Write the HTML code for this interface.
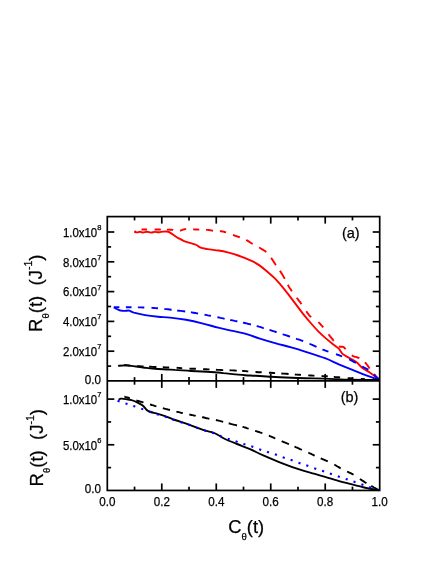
<!DOCTYPE html>
<html><head><meta charset="utf-8"><style>
html,body{margin:0;padding:0;background:#fff;}
svg{display:block;}
text{font-family:"Liberation Sans",sans-serif;white-space:pre;}
</style></head><body>
<svg width="436" height="564" viewBox="0 0 436 564">
<rect width="436" height="564" fill="#fff"/>
<g fill="none" stroke-width="1.9" stroke-linejoin="round">
<path d="M134.4,231.9 C134.8,232.0 136.1,232.4 137.0,232.4 C137.9,232.4 139.0,231.7 140.0,231.7 C141.0,231.7 141.8,232.5 143.0,232.5 C144.2,232.5 145.7,231.8 147.0,231.8 C148.3,231.8 149.7,232.6 151.0,232.6 C152.3,232.6 153.7,231.9 155.0,231.9 C156.3,231.9 157.7,232.4 159.0,232.3 C160.3,232.2 161.8,231.7 163.0,231.6 C164.2,231.5 165.5,231.4 166.5,231.5 C167.5,231.6 168.1,231.6 169.2,232.2 C170.3,232.8 171.8,233.8 173.3,234.8 C174.8,235.8 177.3,237.5 178.4,238.2 C179.5,238.9 179.1,238.3 180.0,238.8 C180.9,239.3 182.3,240.4 184.1,241.1 C185.9,241.8 188.9,242.5 191.0,243.2 C193.1,243.8 194.9,244.2 196.5,245.0 C198.1,245.8 198.8,247.0 200.6,247.7 C202.4,248.4 204.5,248.6 207.5,249.1 C210.5,249.6 215.3,250.0 218.5,250.5 C221.7,251.0 224.1,251.4 226.8,252.1 C229.6,252.8 232.0,253.4 235.0,254.4 C238.0,255.4 241.7,256.6 244.6,257.8 C247.5,259.0 250.3,260.2 252.7,261.4 C255.1,262.6 256.7,263.4 259.1,265.1 C261.5,266.8 264.4,269.2 267.1,271.5 C269.8,273.8 272.2,275.7 275.1,278.7 C278.0,281.7 281.7,286.0 284.6,289.6 C287.5,293.2 289.8,296.2 292.7,300.1 C295.6,304.0 299.4,309.2 302.3,312.9 C305.2,316.6 307.6,319.4 310.3,322.5 C313.0,325.6 315.9,328.9 318.3,331.4 C320.8,333.9 322.5,335.4 325.0,337.6 C327.5,339.8 331.0,342.6 333.3,344.4 C335.6,346.2 337.2,347.0 338.8,348.6 C340.4,350.2 341.1,352.5 342.9,354.1 C344.7,355.7 347.5,356.8 349.8,358.2 C352.1,359.6 354.6,360.7 356.6,362.3 C358.7,363.9 359.8,366.0 362.1,367.8 C364.4,369.6 367.6,371.1 370.4,373.0 C373.2,374.9 377.6,378.4 379.0,379.5" stroke="#ff0000"/>
<path d="M134.4,231.9 L134.7,231.8 L135.0,231.7 L135.5,231.5 L136.0,231.3 L136.0,231.3 M141.5,229.6 L142.3,229.5 L143.2,229.5 L144.3,229.5 L145.3,229.5 L146.5,229.5 L147.0,229.5 M154.6,229.5 L154.9,229.5 L156.2,229.5 L157.5,229.5 L158.7,229.5 L160.0,229.5 L160.8,229.5 M167.0,229.6 L167.7,229.6 L168.9,229.6 L170.0,229.7 L171.0,229.8 L172.1,229.9 L173.0,229.9 L173.1,230.0 M180.0,230.6 L180.5,230.5 L181.1,230.3 L181.8,230.1 L182.4,229.8 L183.1,229.6 L183.9,229.4 L184.7,229.2 L185.5,229.1 L186.2,229.1 M193.1,229.4 L193.8,229.4 L195.3,229.5 L197.0,229.5 L198.9,229.6 L199.3,229.6 M206.1,229.8 L206.1,229.8 L207.5,229.9 L208.6,230.0 L209.4,230.1 L210.0,230.2 L210.6,230.3 L211.1,230.4 L211.6,230.5 L212.2,230.6 L213.0,230.7 M219.9,231.2 L220.4,231.2 L221.3,231.3 L222.0,231.4 L222.5,231.5 L223.0,231.5 L223.4,231.6 L223.7,231.7 L224.2,231.8 L224.7,232.0 L225.4,232.2 L226.1,232.4 M233.0,235.0 L233.6,235.2 L234.5,235.5 L235.3,235.8 L236.1,236.0 L236.8,236.3 L237.5,236.5 L238.3,236.8 L239.0,237.0 L239.8,237.3 M246.2,240.0 L247.0,240.4 L247.8,240.9 L248.6,241.4 L249.5,241.9 L250.3,242.5 L251.1,243.0 L251.9,243.5 L252.7,244.0 M259.1,247.5 L260.0,248.0 L260.9,248.5 L261.8,249.1 L262.8,249.6 L263.7,250.2 L264.6,250.8 L265.5,251.4 L266.3,252.0 M271.1,257.9 L271.7,258.7 L272.3,259.6 L272.9,260.6 L273.6,261.5 L274.2,262.5 L274.8,263.4 L275.3,264.3 L275.9,265.1 M279.9,270.7 L280.5,271.6 L281.1,272.6 L281.8,273.6 L282.4,274.7 L283.1,275.8 L283.7,276.9 L284.3,277.9 L284.8,278.8 M287.8,284.8 L288.3,285.6 L288.7,286.4 L289.2,287.2 L289.7,288.0 L290.3,288.8 L290.8,289.6 L291.3,290.4 L291.9,291.2 M296.7,297.7 L297.3,298.5 L297.9,299.3 L298.5,300.1 L299.1,300.9 L299.7,301.6 L300.3,302.4 L300.9,303.3 L301.5,304.1 M306.3,311.3 L306.9,312.1 L307.4,312.9 L308.0,313.7 L308.6,314.4 L309.1,315.1 L309.7,315.8 L310.4,316.5 L311.1,317.2 M318.3,322.1 L319.0,322.7 L319.7,323.4 L320.3,324.0 L320.8,324.6 L321.4,325.3 L322.0,325.9 L322.6,326.6 L323.2,327.4 M328.6,334.3 L328.8,334.6 L329.5,335.4 L330.1,336.3 L330.8,337.1 L331.4,337.9 L332.0,338.7 L332.7,339.5 L333.3,340.3 L333.8,340.9 M338.8,346.3 L339.4,346.6 L339.9,346.7 L340.5,346.8 L341.0,346.7 L341.5,346.7 L342.0,346.7 L342.5,346.7 L342.9,346.8 L343.3,347.0 L343.6,347.1 L343.9,347.3 L344.1,347.5 L344.4,347.8 L344.7,348.1 L345.1,348.5 L345.6,349.0 M351.8,355.4 L352.7,355.9 L353.7,356.3 L354.6,356.7 L355.6,356.9 L356.6,357.2 L357.6,357.5 L358.5,357.8 L359.4,358.2 M364.9,362.3 L365.5,363.0 L366.2,363.7 L366.8,364.5 L367.4,365.3 L368.0,366.1 L368.6,366.9 L369.1,367.7 L369.7,368.5 M374.0,374.0 L374.6,374.7 L375.3,375.5 L376.0,376.4 L376.8,377.2 L377.5,378.0 L378.1,378.7 L378.6,379.3 L379.0,379.7 " stroke="#ff0000"/>
<path d="M113.8,307.4 C114.2,307.6 115.3,308.3 116.0,308.6 C116.7,308.9 117.1,309.1 117.8,309.4 C118.5,309.7 119.3,310.2 120.0,310.4 C120.7,310.6 121.1,310.6 121.9,310.7 C122.7,310.8 123.8,310.9 125.0,310.9 C126.2,310.9 127.6,310.3 129.1,310.6 C130.6,310.9 131.2,311.9 133.9,312.7 C136.6,313.4 141.1,314.4 145.1,315.1 C149.1,315.8 153.8,316.3 158.0,316.7 C162.2,317.1 165.3,317.1 170.0,317.6 C174.7,318.1 180.7,318.9 186.0,319.8 C191.3,320.8 196.7,322.0 202.1,323.3 C207.5,324.6 213.4,326.4 218.2,327.6 C223.0,328.8 226.9,329.7 231.0,330.6 C235.1,331.5 238.3,331.9 243.0,333.2 C247.7,334.5 253.8,336.6 259.1,338.3 C264.5,340.0 269.8,341.6 275.1,343.1 C280.5,344.6 286.2,346.0 291.2,347.4 C296.2,348.8 299.4,349.8 305.0,351.6 C310.6,353.4 319.4,356.1 325.0,358.2 C330.6,360.3 334.2,362.4 338.8,364.4 C343.4,366.3 347.9,368.1 352.5,369.9 C357.1,371.7 361.9,373.8 366.3,375.4 C370.7,377.0 376.9,379.1 379.0,379.8" stroke="#0000ff"/>
<path d="M113.8,307.1 L114.6,307.1 L115.7,307.1 L116.9,307.1 L118.3,307.1 L119.4,307.1 M125.9,307.2 L127.0,307.2 L129.1,307.3 L131.5,307.3 L131.5,307.3 M137.9,307.4 L138.6,307.4 L140.9,307.4 L142.9,307.5 L144.3,307.5 M151.5,307.8 L152.5,307.9 L154.0,308.0 L155.5,308.1 L157.1,308.2 L158.0,308.3 M164.4,308.9 L164.9,309.0 L166.4,309.1 L168.0,309.3 L169.6,309.5 L171.2,309.7 L171.6,309.7 M177.2,310.4 L177.6,310.5 L179.2,310.7 L180.8,310.9 L182.4,311.1 L183.9,311.3 L185.2,311.5 M190.9,312.3 L191.6,312.4 L193.4,312.7 L195.3,313.0 L197.2,313.4 L198.1,313.5 M204.5,314.7 L205.7,314.9 L208.0,315.4 L210.3,315.8 L210.9,315.9 M217.4,317.2 L217.9,317.3 L220.5,317.9 L223.1,318.4 L224.6,318.8 M230.2,319.9 L230.5,320.0 L232.6,320.4 L234.7,320.9 L236.6,321.2 L237.4,321.4 M243.0,322.6 L243.8,322.8 L245.7,323.2 L247.6,323.7 L249.5,324.1 L251.0,324.5 M256.7,326.0 L257.0,326.1 L258.9,326.7 L260.8,327.2 L262.7,327.8 L263.9,328.1 M269.5,329.9 L270.4,330.2 L272.3,330.8 L274.2,331.4 L276.0,332.0 L276.7,332.2 M282.7,334.2 L283.0,334.3 L284.7,334.8 L286.4,335.4 L288.2,336.0 L290.0,336.6 M296.0,338.6 L297.3,339.1 L299.2,339.7 L301.1,340.4 L303.2,341.2 L303.2,341.2 M309.5,343.7 L310.1,344.0 L312.7,345.1 L315.4,346.3 L316.5,346.8 M322.5,349.4 L322.9,349.6 L325.0,350.4 L326.8,351.1 L328.4,351.7 M336.0,354.1 L337.0,354.5 L337.9,354.8 L338.6,355.0 L339.4,355.3 L340.0,355.6 L340.7,355.8 L341.4,356.1 L342.2,356.4 M349.1,359.3 L350.0,359.7 L350.8,360.2 L351.7,360.6 L352.6,361.1 L353.5,361.6 L354.3,362.1 L355.2,362.5 L356.0,363.0 M362.1,366.5 L362.9,366.9 L363.6,367.3 L364.4,367.7 L365.2,368.1 L366.0,368.5 L366.7,368.9 L367.5,369.4 L368.3,369.9 M373.8,374.7 L373.8,374.8 L374.5,375.4 L375.2,376.0 L375.9,376.7 L376.5,377.3 L377.1,377.9 L377.7,378.5 L378.2,379.0 L378.7,379.4 L379.0,379.7 " stroke="#0000ff"/>
<path d="M118.4,365.9 C119.6,365.8 122.8,365.3 125.7,365.4 C128.6,365.5 132.6,366.1 136.0,366.5 C139.4,366.9 143.1,367.5 146.3,367.9 C149.5,368.3 151.6,368.5 155.0,368.8 C158.4,369.1 163.7,369.3 167.0,369.5 C170.3,369.7 171.0,369.6 175.0,369.9 C179.0,370.1 185.7,370.7 191.0,371.0 C196.3,371.3 203.0,371.6 207.0,371.8 C211.0,372.0 212.3,372.0 215.0,372.2 C217.7,372.4 218.0,372.6 223.0,373.1 C228.0,373.6 239.5,374.8 245.0,375.2 C250.5,375.6 250.0,375.4 255.8,375.8 C261.6,376.2 271.8,376.9 280.0,377.3 C288.2,377.7 297.5,378.0 305.0,378.2 C312.5,378.4 317.2,378.3 325.0,378.6 C332.8,378.9 343.0,379.6 352.0,379.8 C361.0,380.0 374.5,380.0 379.0,380.0" stroke="#000"/>
<path d="M118.4,365.9 L118.9,365.8 L119.0,365.8 M123.9,365.3 L124.6,365.3 L125.7,365.3 L126.8,365.3 L127.9,365.4 L129.1,365.5 L130.3,365.6 L130.3,365.6 M137.1,366.2 L137.8,366.2 L139.8,366.3 L141.9,366.4 L143.5,366.5 M149.1,366.7 L150.6,366.8 L152.5,366.9 L154.3,367.0 L155.9,367.0 L156.4,367.1 M162.8,367.3 L163.5,367.3 L165.0,367.4 L166.5,367.5 L167.9,367.5 L169.2,367.5 M176.6,367.8 L178.1,367.9 L179.7,368.0 L181.3,368.1 L182.2,368.1 M189.4,368.6 L191.1,368.7 L192.8,368.7 L194.5,368.8 L195.9,368.8 M203.1,369.1 L204.7,369.2 L206.4,369.3 L208.0,369.4 L209.5,369.4 M215.9,369.8 L216.0,369.8 L217.7,369.9 L219.4,369.9 L221.1,370.0 L222.8,370.1 L223.2,370.1 M229.6,370.3 L231.2,370.4 L232.8,370.4 L234.4,370.5 L236.0,370.6 L236.8,370.6 M242.1,370.9 L242.4,370.9 L244.0,371.0 L245.5,371.1 L246.9,371.3 L248.3,371.4 M255.5,372.0 L255.8,372.0 L258.3,372.2 L261.1,372.3 L261.7,372.4 M268.9,372.8 L270.4,372.8 L273.6,373.0 L275.1,373.1 M281.3,373.5 L283.1,373.6 L286.4,373.8 L288.6,374.0 M294.8,374.5 L296.2,374.6 L299.3,374.8 L301.0,374.9 M308.2,375.4 L310.8,375.5 L313.4,375.6 L314.4,375.7 M321.6,376.0 L322.9,376.1 L325.0,376.2 L326.9,376.3 L327.8,376.4 M333.8,376.9 L334.1,376.9 L335.5,377.1 L337.0,377.2 L338.6,377.3 L340.1,377.5 M347.7,378.1 L348.4,378.2 L350.0,378.3 L351.6,378.4 L353.2,378.5 L353.2,378.5 M360.8,378.9 L361.2,378.9 L363.0,379.0 L364.9,379.1 M373.0,379.6 L374.0,379.7 L376.1,379.8 L377.7,379.9 L378.0,379.9 " stroke="#000"/>
<path d="M118.6,399.8 C119.0,399.6 119.9,398.7 121.1,398.6 C122.3,398.5 124.2,398.8 125.9,399.1 C127.6,399.4 129.6,399.7 131.5,400.2 C133.4,400.7 135.2,401.4 137.1,402.3 C139.0,403.2 141.1,404.2 142.7,405.5 C144.3,406.8 145.4,408.8 146.7,409.9 C148.0,411.0 148.8,411.3 150.7,412.0 C152.6,412.7 155.2,413.0 158.0,413.9 C160.8,414.8 164.8,416.1 167.6,417.1 C170.4,418.1 171.6,418.8 175.0,420.0 C178.4,421.2 183.6,422.8 188.3,424.4 C193.0,426.0 198.9,428.5 203.0,429.9 C207.1,431.3 210.4,431.7 213.1,432.6 C215.8,433.5 217.0,434.4 219.0,435.5 C221.0,436.6 222.0,437.6 225.0,439.0 C228.0,440.4 232.8,442.3 237.0,444.0 C241.2,445.7 245.6,447.2 250.0,449.1 C254.4,451.0 258.0,453.1 263.3,455.4 C268.6,457.7 275.6,460.7 281.7,463.1 C287.8,465.5 294.4,467.9 300.0,469.7 C305.6,471.5 309.8,472.4 315.0,473.9 C320.2,475.4 325.6,477.1 331.0,478.7 C336.4,480.2 341.7,481.8 347.1,483.2 C352.5,484.6 357.9,486.0 363.2,487.2 C368.5,488.4 376.5,489.9 379.2,490.4" stroke="#000"/>
<path d="M124.3,396.6 L124.7,396.7 L125.3,396.9 L126.0,397.1 L126.7,397.3 L127.5,397.5 L128.3,397.7 L129.1,398.0 L129.9,398.2 M136.3,400.5 L137.2,400.8 L138.1,401.0 L139.0,401.2 L139.9,401.5 L140.8,401.7 L141.7,401.9 L142.6,402.2 L143.5,402.4 M150.0,404.5 L150.8,404.7 L151.6,405.0 L152.4,405.2 L153.2,405.4 L154.0,405.6 L154.8,405.9 L155.6,406.1 L156.4,406.3 M162.8,408.2 L163.7,408.4 L164.6,408.7 L165.5,408.9 L166.4,409.1 L167.3,409.3 L168.2,409.6 L169.1,409.8 L170.0,410.0 M176.4,411.6 L177.2,411.8 L178.0,412.0 L178.8,412.2 L179.6,412.4 L180.4,412.6 L181.2,412.8 L182.0,413.0 L182.8,413.2 M189.3,414.5 L190.1,414.7 L190.9,414.8 L191.7,415.0 L192.5,415.1 L193.3,415.3 L194.1,415.5 L194.9,415.6 L195.7,415.8 M202.1,417.1 L203.0,417.3 L203.9,417.5 L204.8,417.7 L205.7,418.0 L206.7,418.2 L207.6,418.4 L208.5,418.6 L209.4,418.8 M215.9,420.0 L216.8,420.2 L217.7,420.4 L218.7,420.6 L219.6,420.9 L220.6,421.1 L221.5,421.4 L222.4,421.6 L223.2,421.8 M228.7,423.3 L229.6,423.5 L230.6,423.8 L231.6,424.1 L232.7,424.4 L233.8,424.7 L234.9,424.9 L236.0,425.2 L237.0,425.5 M242.5,426.8 L242.9,426.9 L243.9,427.2 L245.0,427.5 L246.2,427.9 L247.4,428.3 L248.7,428.7 M255.1,430.8 L256.2,431.1 L257.1,431.5 L258.1,431.8 L259.0,432.0 L259.8,432.3 L260.7,432.6 L261.5,432.9 L262.4,433.2 M268.9,435.7 L269.7,436.0 L270.5,436.4 L271.3,436.7 L272.1,437.0 L272.9,437.4 L273.7,437.7 L274.5,438.1 L275.3,438.4 M281.7,441.2 L282.6,441.6 L283.5,442.0 L284.5,442.3 L285.4,442.7 L286.4,443.1 L287.3,443.5 L288.2,443.9 L289.0,444.2 M294.5,446.5 L295.3,446.9 L296.2,447.3 L297.2,447.7 L298.1,448.2 L299.1,448.6 L300.1,449.1 L301.0,449.5 L301.9,449.9 M308.3,452.6 L309.1,453.0 L309.9,453.4 L310.7,453.7 L311.5,454.1 L312.3,454.5 L313.1,454.9 L313.9,455.3 L314.7,455.7 M320.7,458.3 L321.4,458.6 L322.2,459.0 L323.0,459.3 L323.8,459.6 L324.6,460.0 L325.4,460.3 L326.2,460.7 L327.0,461.0 L327.8,461.4 M334.3,464.6 L335.1,465.0 L335.9,465.5 L336.7,466.0 L337.5,466.5 L338.3,466.9 L339.1,467.4 L339.9,467.9 L340.7,468.3 M347.1,471.5 L347.9,471.9 L348.7,472.3 L349.5,472.7 L350.3,473.0 L351.1,473.4 L351.9,473.8 L352.7,474.2 L353.5,474.7 M359.9,479.0 L360.7,479.5 L361.6,480.1 L362.4,480.6 L363.2,481.2 L364.1,481.7 L364.9,482.3 L365.7,482.7 L366.4,483.2 M371.2,485.9 L372.0,486.4 L373.0,486.9 L374.0,487.5 L375.1,488.1 L376.1,488.7 L377.0,489.2 L377.8,489.7 L378.4,490.0 " stroke="#000"/>
<path d="M117.6,400.8 L119.6,401.5 M125.5,403.5 L127.5,404.1 M133.3,405.9 L135.3,406.5 M141.2,408.6 L143.2,409.4 M149.1,411.5 L151.1,412.2 M156.9,414.2 L158.9,414.8 M164.8,416.6 L166.8,417.3 M172.6,419.4 L174.6,420.1 M180.5,422.0 L182.5,422.7 M188.4,424.6 L190.4,425.3 M196.2,427.5 L198.2,428.2 M204.1,430.3 L206.1,430.9 M212.0,432.5 L214.0,433.2 M219.8,435.8 L221.8,436.6 M227.7,438.7 L229.7,439.3 M235.6,441.3 L237.6,442.0 M243.4,443.9 L245.4,444.5 M251.3,446.3 L253.3,446.9 M259.2,449.2 L261.2,449.9 M267.0,451.8 L269.0,452.5 M274.9,454.3 L276.9,455.0 M282.7,457.2 L284.7,457.9 M290.6,459.8 L292.6,460.5 M298.5,462.7 L300.5,463.4 M306.3,465.2 L308.3,465.9 M314.2,468.2 L316.2,468.9 M322.1,470.7 L324.1,471.4 M329.9,473.5 L331.9,474.2 M337.8,476.3 L339.8,476.9 M345.7,478.9 L347.7,479.6 M353.5,481.6 L355.5,482.3 M361.4,484.2 L363.4,484.9 M369.2,487.1 L371.2,487.8 M377.1,489.7 L379.1,490.0 " stroke="#0000ff" stroke-width="2.1"/>
</g>
<g stroke="#000" stroke-width="1.7" fill="none" stroke-linecap="butt">
<rect x="107.3" y="216.6" width="272.4" height="273.85"/>
<line x1="107.3" y1="380.9" x2="379.7" y2="380.9"/>
<line x1="134.54" y1="216.6" x2="134.54" y2="220.4"/>
<line x1="134.54" y1="377.09999999999997" x2="134.54" y2="384.7"/>
<line x1="134.54" y1="490.45" x2="134.54" y2="486.65"/>
<line x1="161.78" y1="216.6" x2="161.78" y2="223.6"/>
<line x1="161.78" y1="373.9" x2="161.78" y2="387.9"/>
<line x1="161.78" y1="490.45" x2="161.78" y2="483.45"/>
<line x1="189.02" y1="216.6" x2="189.02" y2="220.4"/>
<line x1="189.02" y1="377.09999999999997" x2="189.02" y2="384.7"/>
<line x1="189.02" y1="490.45" x2="189.02" y2="486.65"/>
<line x1="216.26" y1="216.6" x2="216.26" y2="223.6"/>
<line x1="216.26" y1="373.9" x2="216.26" y2="387.9"/>
<line x1="216.26" y1="490.45" x2="216.26" y2="483.45"/>
<line x1="243.50" y1="216.6" x2="243.50" y2="220.4"/>
<line x1="243.50" y1="377.09999999999997" x2="243.50" y2="384.7"/>
<line x1="243.50" y1="490.45" x2="243.50" y2="486.65"/>
<line x1="270.74" y1="216.6" x2="270.74" y2="223.6"/>
<line x1="270.74" y1="373.9" x2="270.74" y2="387.9"/>
<line x1="270.74" y1="490.45" x2="270.74" y2="483.45"/>
<line x1="297.98" y1="216.6" x2="297.98" y2="220.4"/>
<line x1="297.98" y1="377.09999999999997" x2="297.98" y2="384.7"/>
<line x1="297.98" y1="490.45" x2="297.98" y2="486.65"/>
<line x1="325.22" y1="216.6" x2="325.22" y2="223.6"/>
<line x1="325.22" y1="373.9" x2="325.22" y2="387.9"/>
<line x1="325.22" y1="490.45" x2="325.22" y2="483.45"/>
<line x1="352.46" y1="216.6" x2="352.46" y2="220.4"/>
<line x1="352.46" y1="377.09999999999997" x2="352.46" y2="384.7"/>
<line x1="352.46" y1="490.45" x2="352.46" y2="486.65"/>
<line x1="107.3" y1="366.10" x2="111.1" y2="366.10"/>
<line x1="379.7" y1="366.10" x2="375.9" y2="366.10"/>
<line x1="107.3" y1="351.20" x2="114.3" y2="351.20"/>
<line x1="379.7" y1="351.20" x2="372.7" y2="351.20"/>
<line x1="107.3" y1="336.30" x2="111.1" y2="336.30"/>
<line x1="379.7" y1="336.30" x2="375.9" y2="336.30"/>
<line x1="107.3" y1="321.40" x2="114.3" y2="321.40"/>
<line x1="379.7" y1="321.40" x2="372.7" y2="321.40"/>
<line x1="107.3" y1="306.50" x2="111.1" y2="306.50"/>
<line x1="379.7" y1="306.50" x2="375.9" y2="306.50"/>
<line x1="107.3" y1="291.60" x2="114.3" y2="291.60"/>
<line x1="379.7" y1="291.60" x2="372.7" y2="291.60"/>
<line x1="107.3" y1="276.70" x2="111.1" y2="276.70"/>
<line x1="379.7" y1="276.70" x2="375.9" y2="276.70"/>
<line x1="107.3" y1="261.80" x2="114.3" y2="261.80"/>
<line x1="379.7" y1="261.80" x2="372.7" y2="261.80"/>
<line x1="107.3" y1="246.90" x2="111.1" y2="246.90"/>
<line x1="379.7" y1="246.90" x2="375.9" y2="246.90"/>
<line x1="107.3" y1="232.00" x2="114.3" y2="232.00"/>
<line x1="379.7" y1="232.00" x2="372.7" y2="232.00"/>
<line x1="107.3" y1="467.61" x2="111.1" y2="467.61"/>
<line x1="379.7" y1="467.61" x2="375.9" y2="467.61"/>
<line x1="107.3" y1="444.77" x2="114.3" y2="444.77"/>
<line x1="379.7" y1="444.77" x2="372.7" y2="444.77"/>
<line x1="107.3" y1="421.94" x2="111.1" y2="421.94"/>
<line x1="379.7" y1="421.94" x2="375.9" y2="421.94"/>
<line x1="107.3" y1="399.10" x2="114.3" y2="399.10"/>
<line x1="379.7" y1="399.10" x2="372.7" y2="399.10"/>
</g>
<g font-family="Liberation Sans, sans-serif" fill="#000" stroke="#000" stroke-width="0.25" opacity="0.999">
<text x="97.2" y="236.7" font-size="12" text-anchor="end" textLength="34.3" lengthAdjust="spacingAndGlyphs">1.0x10</text>
<text x="97.3" y="230.0" font-size="7.5">8</text>
<text x="97.2" y="266.5" font-size="12" text-anchor="end" textLength="34.3" lengthAdjust="spacingAndGlyphs">8.0x10</text>
<text x="97.3" y="259.8" font-size="7.5">7</text>
<text x="97.2" y="296.3" font-size="12" text-anchor="end" textLength="34.3" lengthAdjust="spacingAndGlyphs">6.0x10</text>
<text x="97.3" y="289.6" font-size="7.5">7</text>
<text x="97.2" y="326.1" font-size="12" text-anchor="end" textLength="34.3" lengthAdjust="spacingAndGlyphs">4.0x10</text>
<text x="97.3" y="319.4" font-size="7.5">7</text>
<text x="97.2" y="355.9" font-size="12" text-anchor="end" textLength="34.3" lengthAdjust="spacingAndGlyphs">2.0x10</text>
<text x="97.3" y="349.2" font-size="7.5">7</text>
<text x="101" y="384.0" font-size="12" text-anchor="end" textLength="16.2" lengthAdjust="spacingAndGlyphs">0.0</text>
<text x="97.2" y="403.8" font-size="12" text-anchor="end" textLength="34.3" lengthAdjust="spacingAndGlyphs">1.0x10</text>
<text x="97.3" y="397.1" font-size="7.5">7</text>
<text x="97.2" y="449.5" font-size="12" text-anchor="end" textLength="34.3" lengthAdjust="spacingAndGlyphs">5.0x10</text>
<text x="97.3" y="442.8" font-size="7.5">6</text>
<text x="101" y="492.8" font-size="12" text-anchor="end" textLength="16.2" lengthAdjust="spacingAndGlyphs">0.0</text>
<text x="107.3" y="506.3" font-size="12" text-anchor="middle" textLength="16.2" lengthAdjust="spacingAndGlyphs">0.0</text>
<text x="161.8" y="506.3" font-size="12" text-anchor="middle" textLength="16.2" lengthAdjust="spacingAndGlyphs">0.2</text>
<text x="216.3" y="506.3" font-size="12" text-anchor="middle" textLength="16.2" lengthAdjust="spacingAndGlyphs">0.4</text>
<text x="270.7" y="506.3" font-size="12" text-anchor="middle" textLength="16.2" lengthAdjust="spacingAndGlyphs">0.6</text>
<text x="325.2" y="506.3" font-size="12" text-anchor="middle" textLength="16.2" lengthAdjust="spacingAndGlyphs">0.8</text>
<text x="379.7" y="506.3" font-size="12" text-anchor="middle" textLength="16.2" lengthAdjust="spacingAndGlyphs">1.0</text>
<text x="350.8" y="238.1" font-size="14.5" text-anchor="middle">(a)</text>
<text x="349.6" y="401.8" font-size="14.5" text-anchor="middle">(b)</text>
<text x="228.3" y="532.6" font-size="18.3">C<tspan font-size="9.5" dy="7">θ</tspan><tspan dy="-7">(t)</tspan></text>
<text transform="translate(42,293.2) rotate(-90)" font-size="18.5" text-anchor="middle">R<tspan font-size="9.5" dy="7">θ</tspan><tspan dy="-7">(t)  (J</tspan><tspan font-size="10.6" dy="-9.8">-1</tspan><tspan dy="9.8">)</tspan></text>
<text transform="translate(43.4,447.7) rotate(-90)" font-size="18.5" text-anchor="middle">R<tspan font-size="9.5" dy="7">θ</tspan><tspan dy="-7">(t)  (J</tspan><tspan font-size="10.6" dy="-9.8">-1</tspan><tspan dy="9.8">)</tspan></text>
</g>
</svg>
</body></html>
